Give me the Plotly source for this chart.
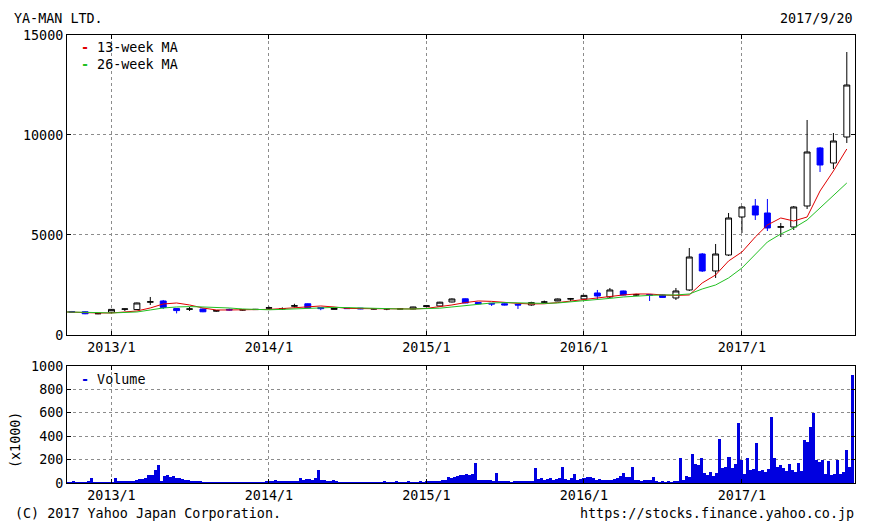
import plotly.graph_objects as go
import pandas as pd

# ---------------- data ----------------
candle_months = pd.date_range("2012-10-01", "2017-09-01", freq="MS").strftime("%Y-%m-%d").tolist()
opens = [1170, 1160, 1060, 1140, 1290, 1270, 1640, 1700, 1320, 1290, 1300, 1200,
         1280, 1250, 1270, 1340, 1300, 1440, 1560, 1370, 1280, 1350, 1340, 1300,
         1300, 1300, 1300, 1420, 1450, 1650, 1810, 1620, 1580, 1560, 1530, 1500,
         1640, 1700, 1800, 1800, 2100, 1900, 2200, 2000, 2020, 2000, 1850, 2250,
         4050, 3200, 4000, 5900, 6450, 6100, 5390, 5400, 6450, 9350, 8600, 9900]
highs = [1200, 1180, 1090, 1300, 1320, 1620, 1900, 1750, 1350, 1400, 1320, 1230,
         1320, 1280, 1300, 1420, 1380, 1560, 1580, 1400, 1340, 1360, 1350, 1330,
         1320, 1330, 1410, 1480, 1660, 1830, 1830, 1650, 1600, 1580, 1550, 1660,
         1720, 1820, 1850, 2000, 2250, 2350, 2220, 2060, 2050, 2020, 2350, 4350,
         4100, 4550, 6100, 6450, 6800, 6800, 5600, 6450, 10750, 9400, 10100, 14150]
lows = [1120, 1040, 1040, 1100, 1200, 1250, 1500, 1300, 1080, 1200, 1140, 1170,
        1220, 1220, 1250, 1300, 1260, 1380, 1340, 1240, 1270, 1300, 1290, 1280,
        1240, 1290, 1290, 1400, 1430, 1630, 1590, 1540, 1450, 1480, 1300, 1460,
        1600, 1690, 1700, 1780, 1800, 1850, 1980, 1950, 1700, 1860, 1750, 2200,
        3150, 2850, 3950, 5100, 5750, 5200, 4900, 5250, 6300, 8150, 8300, 9600]
closes = [1140, 1060, 1070, 1280, 1300, 1600, 1660, 1380, 1220, 1300, 1160, 1210,
          1250, 1260, 1280, 1360, 1320, 1460, 1360, 1320, 1330, 1320, 1310, 1310,
          1310, 1310, 1400, 1460, 1640, 1800, 1600, 1560, 1550, 1500, 1500, 1620,
          1650, 1800, 1810, 1980, 1950, 2250, 2000, 2010, 1990, 1880, 2200, 3900,
          3200, 4050, 5850, 6400, 6000, 5350, 5410, 6400, 9150, 8500, 9700, 12500]

ma_dates = ["2012-09-20"] + pd.date_range("2012-10-01", "2017-09-01", freq="MS").strftime("%Y-%m-%d").tolist() + ["2017-09-20"]
ma13 = [1150, 1150, 1120, 1100, 1100, 1150, 1200, 1350, 1550, 1600, 1500, 1350, 1250,
        1250, 1250, 1250, 1280, 1320, 1350, 1420, 1450, 1400, 1330, 1320, 1310,
        1300, 1300, 1300, 1330, 1400, 1500, 1620, 1700, 1680, 1620, 1580, 1550,
        1560, 1620, 1700, 1780, 1850, 1950, 2000, 2050, 2050, 2000, 1980, 2000,
        2600, 3000, 3700, 4150, 4900, 5500, 5850, 5700, 5900, 7200, 8200, 9300]
ma26 = [1150, 1150, 1150, 1120, 1100, 1120, 1150, 1250, 1350, 1400, 1420, 1400, 1380,
        1350, 1300, 1270, 1260, 1280, 1300, 1340, 1370, 1380, 1370, 1350, 1320,
        1310, 1300, 1300, 1310, 1340, 1400, 1480, 1550, 1600, 1620, 1600, 1580,
        1580, 1600, 1650, 1700, 1760, 1830, 1900, 1950, 1980, 2000, 2000, 2050,
        2300, 2500, 2850, 3350, 4050, 4650, 5050, 5350, 5750, 6350, 6950, 7600]

vol_start = "2012-09-21"
volume = [12, 10, 14, 12, 10, 9, 12, 15, 45, 12, 10, 12, 10, 8, 10,
          12, 40, 15, 14, 15, 16, 14, 18, 28, 32, 38, 45, 70, 65, 110, 155, 20, 60, 70, 55,
          60, 45, 40, 35, 25, 22, 20, 18, 20, 15, 12, 10, 10, 8, 12, 10, 10, 8, 10, 12,
          10, 8, 10, 12, 10, 10, 12, 10, 8, 10, 12, 14,
          20, 18, 22, 15, 18, 20, 16, 15, 18, 20, 40, 25, 35, 38, 30, 45, 110, 25, 22, 20,
          18, 22, 15, 12, 10, 8, 10, 8, 12, 10, 8, 10, 12, 10, 8, 10, 12, 10, 14, 10,
          12, 10, 15, 12, 10, 12, 14, 12, 10, 12, 15, 12,
          15, 18, 15, 20, 18, 22, 30, 55, 40, 50, 60, 70, 65, 75, 70, 80, 175, 30, 25, 28,
          22, 25, 20, 85, 20, 15, 18, 15, 12, 15, 18, 15, 20, 15, 18, 20, 130, 35, 40, 30,
          35, 45, 30, 35, 40, 140, 35, 30, 40, 75, 30, 35, 40,
          55, 50, 45, 30, 35, 28, 30, 25, 30, 35, 40, 60, 85, 55, 50, 135, 25, 30, 20, 25,
          22, 25, 55, 15, 12, 15, 12, 14, 12, 15, 20, 215, 25, 60, 55, 250, 165, 150, 215,
          85, 70, 90, 60, 85, 375, 130, 140, 225, 130, 160, 510, 200,
          80, 215, 115, 120, 340, 100, 110, 95, 120, 560, 215, 140, 150, 130, 100, 165,
          110, 95, 170, 100, 370, 350, 480, 600, 200, 180, 200, 75, 190, 70, 80, 200, 75,
          90, 280, 140, 925]
vol_dates = pd.date_range(vol_start, periods=len(volume), freq="7D")

year_ticks = ["2013-01-01", "2014-01-01", "2015-01-01", "2016-01-01", "2017-01-01"]
year_labels = ["2013/1", "2014/1", "2015/1", "2016/1", "2017/1"]
price_ticks = [0, 5000, 10000, 15000]
vol_ticks = [0, 200, 400, 600, 800, 1000]

# ---------------- figure ----------------
FONT = "DejaVu Sans Mono"
FS = 13.4
BLUE = "#0000ff"
fig = go.Figure()

fig.add_trace(go.Candlestick(
    x=candle_months, open=opens, high=highs, low=lows, close=closes,
    increasing=dict(line=dict(color="black", width=1), fillcolor="white"),
    decreasing=dict(line=dict(color=BLUE, width=1), fillcolor=BLUE),
    whiskerwidth=0, showlegend=False, xaxis="x", yaxis="y"))
fig.add_trace(go.Scatter(x=ma_dates, y=ma13, mode="lines",
                         line=dict(color="#e00000", width=1), showlegend=False,
                         xaxis="x", yaxis="y"))
fig.add_trace(go.Scatter(x=ma_dates, y=ma26, mode="lines",
                         line=dict(color="#22c022", width=1), showlegend=False,
                         xaxis="x", yaxis="y"))
fig.add_trace(go.Bar(x=vol_dates, y=volume, width=7 * 86400000,
                     marker=dict(color="#0000e0", line=dict(width=0)),
                     showlegend=False, xaxis="x2", yaxis="y2"))

xrange = ["2012-09-20", "2017-09-20"]
axis_common = dict(showline=True, linecolor="black", linewidth=1, mirror="ticks",
                   ticks="inside", ticklen=4, tickcolor="black",
                   showgrid=True, gridcolor="#8c8c8c", griddash="dot", gridwidth=1,
                   zeroline=False, tickfont=dict(family=FONT, size=FS, color="black"))

# page offset of the plot div is 8px (body margin), margins compensate for it
fig.update_layout(
    width=870, height=531,
    margin=dict(l=59, r=23, t=27, b=56),
    paper_bgcolor="white", plot_bgcolor="white",
    font=dict(family=FONT, size=FS, color="black"),
    bargap=0,
    xaxis=dict(domain=[0, 1], anchor="y", range=xrange, type="date",
               tickvals=year_ticks, ticktext=year_labels,
               rangeslider=dict(visible=False), **axis_common),
    yaxis=dict(domain=[0.3304, 1], anchor="x", range=[0, 15000],
               tickvals=price_ticks, ticktext=[str(v) for v in price_ticks],
               **axis_common),
    xaxis2=dict(domain=[0, 1], anchor="y2", range=xrange, type="date",
                tickvals=year_ticks, ticktext=year_labels, **axis_common),
    yaxis2=dict(domain=[0, 0.2612], anchor="x2", range=[0, 1000],
                tickvals=vol_ticks, ticktext=[str(v) for v in vol_ticks],
                **axis_common),
)

W, H = 788.0, 448.0
def px(x):
    return (x - 67) / W
def py(y):
    return (483 - y) / H

ann = [
    dict(text="YA-MAN LTD.", x=px(12), y=py(19), xanchor="left"),
    dict(text="2017/9/20", x=px(855), y=py(19), xanchor="right"),
    dict(text="(C) 2017 Yahoo Japan Corporation.", x=px(13), y=py(513), xanchor="left"),
    dict(text="https://stocks.finance.yahoo.co.jp", x=px(856), y=py(513), xanchor="right"),
    dict(text="<b><span style='color:#e00000'>-</span></b> 13-week MA", x=px(79), y=py(47), xanchor="left"),
    dict(text="<b><span style='color:#22c022'>-</span></b> 26-week MA", x=px(79), y=py(65), xanchor="left"),
    dict(text="<b><span style='color:#0000e0'>-</span></b> Volume", x=px(79), y=py(379), xanchor="left"),
]
for a in ann:
    fig.add_annotation(xref="paper", yref="paper", showarrow=False, yanchor="middle",
                       font=dict(family=FONT, size=FS, color="black"), **a)
fig.add_annotation(xref="paper", yref="paper", showarrow=False, text="(x1000)",
                   x=px(15), y=py(440), textangle=-90, xanchor="center", yanchor="middle",
                   font=dict(family=FONT, size=FS, color="black"))

fig.write_html("out.html")
